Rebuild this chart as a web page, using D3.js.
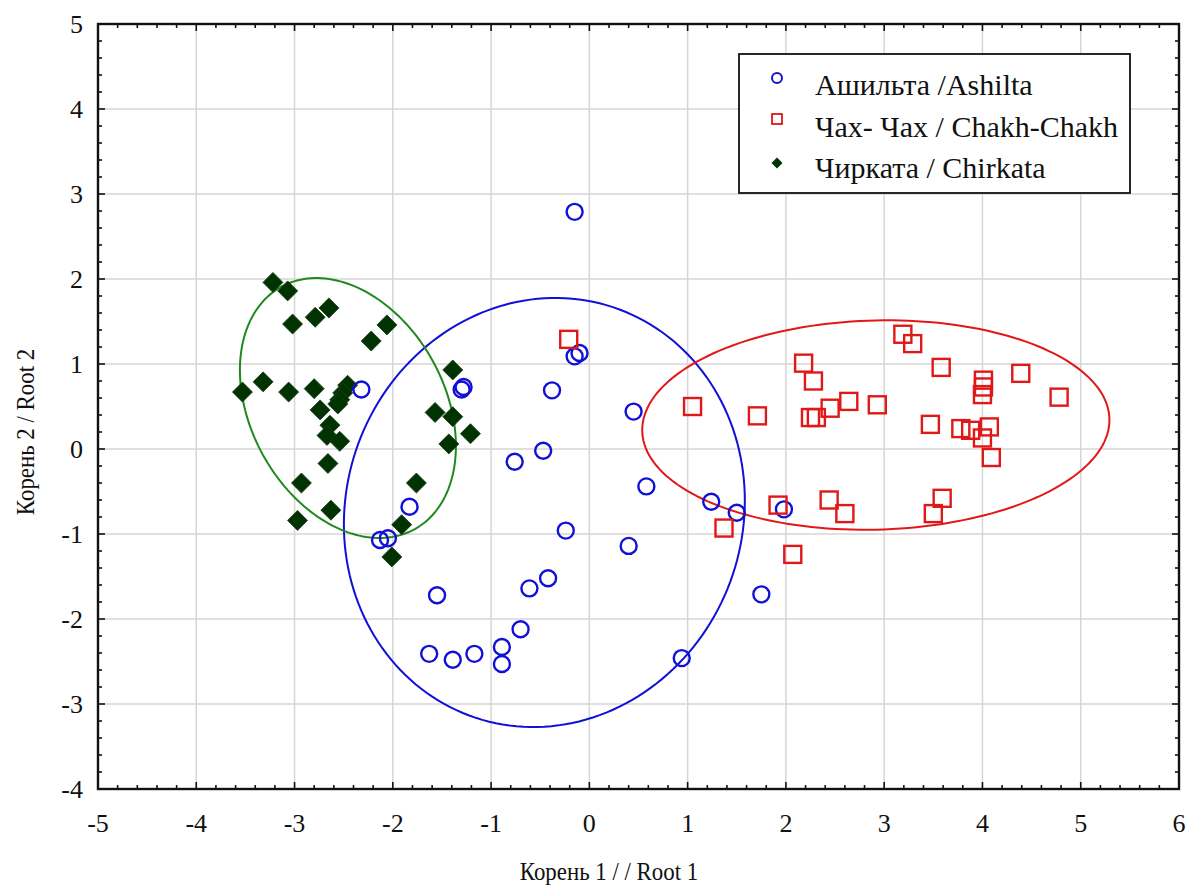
<!DOCTYPE html>
<html>
<head>
<meta charset="utf-8">
<script src="https://cdn.jsdelivr.net/npm/d3@7"></script>
<style>
  body { margin: 0; background: #fff; }
  svg text { font-family: "Liberation Serif", "Times New Roman", serif; fill: #111; }
</style>
</head>
<body>
<div id="chart"></div>
<script>
// Ашильта / Ashilta (circles)
const ashiltaX = [-2.32, -1.28, -1.30, -0.15, -0.15, -0.10, -0.38, 0.45, -0.76, -0.47, 0.58, 1.24, 1.50, 1.98, -1.83,
                  -2.13, -2.05, -0.24, 0.40, -0.42, -0.61, -1.55, 1.75, -0.70, -1.63, -1.39, -1.17, -0.89, -0.89, 0.94];
const ashiltaY = [0.70, 0.73, 0.70, 2.79, 1.09, 1.13, 0.69, 0.44, -0.15, -0.02, -0.44, -0.62, -0.75, -0.71, -0.68,
                  -1.07, -1.05, -0.96, -1.14, -1.52, -1.64, -1.72, -1.71, -2.12, -2.41, -2.48, -2.41, -2.33, -2.53, -2.46];

// Чах-Чах / Chakh-Chakh (squares)
const chakhX = [1.05, 1.71, 2.18, 2.28, 2.25, 2.31, 2.45, 2.64, 2.93, 3.19, 3.29, 3.58, 4.01, 4.01, 4.00, 4.39,
                4.78, 3.47, 3.78, 3.88, 4.07, 4.00, 4.09, 1.92, 1.37, 2.07, 2.44, 2.60, 3.59, 3.50, -0.21];
const chakhY = [0.50, 0.39, 1.01, 0.80, 0.37, 0.37, 0.48, 0.56, 0.52, 1.35, 1.24, 0.96, 0.81, 0.73, 0.64, 0.89,
                0.61, 0.29, 0.24, 0.22, 0.26, 0.13, -0.10, -0.66, -0.93, -1.24, -0.60, -0.76, -0.58, -0.76, 1.29];

// Чирката / Chirkata (diamonds)
const chirkataX = [-3.22, -3.07, -3.02, -2.79, -2.65, -2.06, -2.22, -3.53, -3.32, -3.06, -2.80, -2.46, -2.51, -2.54,
                   -2.56, -2.74, -2.64, -2.67, -2.54, -2.66, -2.93, -2.63, -2.97, -1.39, -1.57, -1.39, -1.21, -1.43,
                   -1.76, -1.91, -2.01];
const chirkataY = [1.96, 1.86, 1.47, 1.55, 1.66, 1.46, 1.27, 0.67, 0.79, 0.67, 0.71, 0.75, 0.66, 0.58,
                   0.53, 0.46, 0.28, 0.16, 0.09, -0.17, -0.40, -0.72, -0.84, 0.93, 0.43, 0.38, 0.18, 0.06,
                   -0.40, -0.89, -1.27];

// ellipses: center x, center y, spread x, spread y, correlation
const ellipseNames = ["Ашильта /Ashilta", "Чах- Чах / Chakh-Chakh", "Чирката / Chirkata"];
const ellipseCx = [-0.458, 2.915, -2.457];
const ellipseCy = [-0.747, 0.282, 0.482];
const ellipseSx = [2.040, 2.377, 1.099];
const ellipseSy = [2.524, 1.232, 1.529];
const ellipseR  = [0.055, 0.048, -0.292];

const xTicks = d3.range(-5, 7, 1);
const yTicks = d3.range(-4, 6, 1);

const width = 1188, height = 886;
const margin = {top: 24, right: 9, bottom: 97, left: 98};
const plotW = width - margin.left - margin.right;
const plotH = height - margin.top - margin.bottom;

const colors = ["#1010d8", "#e01818", "#003300"];
const ellipseColors = ["#1010d8", "#e01818", "#1e8a1e"];

const svg = d3.select("#chart").append("svg")
    .attr("width", width)
    .attr("height", height);

const g = svg.append("g")
    .attr("transform", "translate(" + margin.left + "," + margin.top + ")");

const x = d3.scaleLinear().domain([-5, 6]).range([0, plotW]);
const y = d3.scaleLinear().domain([-4, 5]).range([plotH, 0]);

// grid
g.append("g").selectAll("line.vx")
    .data(xTicks.slice(1, -1))
    .enter().append("line")
    .attr("x1", d => x(d)).attr("x2", d => x(d))
    .attr("y1", 0).attr("y2", plotH)
    .attr("stroke", "#d6d6d6").attr("stroke-width", 1.5);
g.append("g").selectAll("line.hy")
    .data(yTicks.slice(1, -1))
    .enter().append("line")
    .attr("y1", d => y(d)).attr("y2", d => y(d))
    .attr("x1", 0).attr("x2", plotW)
    .attr("stroke", "#d6d6d6").attr("stroke-width", 1.5);

// ellipses
const ellipsePath = function(i) {
    const pts = d3.range(0, 361, 2).map(function(a) {
        const t = a * Math.PI / 180;
        const ex = ellipseCx[i] + ellipseSx[i] * Math.cos(t);
        const ey = ellipseCy[i] + ellipseSy[i] * (ellipseR[i] * Math.cos(t) + Math.sqrt(1 - ellipseR[i] * ellipseR[i]) * Math.sin(t));
        return [x(ex), y(ey)];
    });
    return d3.line()(pts) + "Z";
};
g.append("defs").append("clipPath").attr("id", "clip")
    .append("rect").attr("width", plotW).attr("height", plotH);
const content = g.append("g").attr("clip-path", "url(#clip)");

content.selectAll("path.ell")
    .data(ellipseNames.map((d, i) => i))
    .enter().append("path")
    .attr("d", d => ellipsePath(d))
    .attr("fill", "none")
    .attr("stroke", d => ellipseColors[d])
    .attr("stroke-width", 2);

// points
const chirkata = chirkataX.map((d, i) => [d, chirkataY[i]]);
const ashilta = ashiltaX.map((d, i) => [d, ashiltaY[i]]);
const chakh = chakhX.map((d, i) => [d, chakhY[i]]);

content.selectAll("path.diamond")
    .data(chirkata).enter().append("path")
    .attr("d", d3.symbol().type(d3.symbolSquare).size(200))
    .attr("transform", d => "translate(" + x(d[0]) + "," + y(d[1]) + ") rotate(45)")
    .attr("fill", colors[2])
    .attr("stroke", "#1a3d1a").attr("stroke-width", 0.8);

content.selectAll("circle.ash")
    .data(ashilta).enter().append("circle")
    .attr("cx", d => x(d[0])).attr("cy", d => y(d[1]))
    .attr("r", 8)
    .attr("fill", "none")
    .attr("stroke", colors[0]).attr("stroke-width", 2.4);

content.selectAll("rect.chakh")
    .data(chakh).enter().append("rect")
    .attr("x", d => x(d[0]) - 8.5).attr("y", d => y(d[1]) - 8.5)
    .attr("width", 17).attr("height", 17)
    .attr("fill", "none")
    .attr("stroke", colors[1]).attr("stroke-width", 2.4);

// frame ticks (inside, on all sides)
const minorX = d3.range(-5, 6.001, 0.2).map(d => Math.round(d * 10) / 10);
const minorY = d3.range(-4, 5.001, 0.2).map(d => Math.round(d * 10) / 10);
const isMajor = d => Math.abs(d - Math.round(d)) < 1e-6;

const ticks = g.append("g").attr("stroke", "#111").attr("stroke-width", 1.6);
ticks.selectAll("line.bt").data(minorX).enter().append("line")
    .attr("x1", d => x(d)).attr("x2", d => x(d))
    .attr("y1", plotH).attr("y2", d => plotH - (isMajor(d) ? 7 : 4));
ticks.selectAll("line.tt").data(minorX).enter().append("line")
    .attr("x1", d => x(d)).attr("x2", d => x(d))
    .attr("y1", 0).attr("y2", d => (isMajor(d) ? 7 : 4));
ticks.selectAll("line.lt").data(minorY).enter().append("line")
    .attr("y1", d => y(d)).attr("y2", d => y(d))
    .attr("x1", 0).attr("x2", d => (isMajor(d) ? 7 : 4));
ticks.selectAll("line.rt").data(minorY).enter().append("line")
    .attr("y1", d => y(d)).attr("y2", d => y(d))
    .attr("x1", plotW).attr("x2", d => plotW - (isMajor(d) ? 7 : 4));

// frame
g.append("rect")
    .attr("width", plotW).attr("height", plotH)
    .attr("fill", "none").attr("stroke", "#111").attr("stroke-width", 2.4);

// tick labels
g.append("g").selectAll("text.xl")
    .data(xTicks).enter().append("text")
    .attr("x", d => x(d)).attr("y", plotH + 43)
    .attr("text-anchor", "middle")
    .style("font-size", "26px")
    .text(d => d);
g.append("g").selectAll("text.yl")
    .data(yTicks).enter().append("text")
    .attr("x", -15).attr("y", d => y(d) + 9)
    .attr("text-anchor", "end")
    .style("font-size", "26px")
    .text(d => d);

// axis titles (glyphs a bit narrow in the original)
svg.append("text")
    .attr("transform", "translate(" + (margin.left + x(0.2)) + ",880) scale(0.88,1)")
    .attr("text-anchor", "middle")
    .style("font-size", "26px")
    .text("Корень 1 / / Root 1");
svg.append("text")
    .attr("transform", "translate(34," + (margin.top + y(0.2)) + ") rotate(-90) scale(0.88,1)")
    .attr("text-anchor", "middle")
    .style("font-size", "26px")
    .text("Корень 2 / Root 2");

// legend
const legend = svg.append("g").attr("transform", "translate(739,54)");
legend.append("rect")
    .attr("width", 391).attr("height", 139)
    .attr("fill", "#fff").attr("stroke", "#111").attr("stroke-width", 1.8);
const rowBase = [41, 83, 124];
const markY = [24, 65, 109];
legend.append("circle").attr("cx", 38).attr("cy", markY[0]).attr("r", 5)
    .attr("fill", "none").attr("stroke", colors[0]).attr("stroke-width", 2);
legend.append("rect").attr("x", 33).attr("y", markY[1] - 5).attr("width", 10).attr("height", 10)
    .attr("fill", "none").attr("stroke", colors[1]).attr("stroke-width", 1.8);
legend.append("path")
    .attr("d", d3.symbol().type(d3.symbolSquare).size(60))
    .attr("transform", "translate(38," + markY[2] + ") rotate(45)")
    .attr("fill", colors[2]);
legend.selectAll("text.lg")
    .data(ellipseNames).enter().append("text")
    .attr("x", 76).attr("y", (d, i) => rowBase[i])
    .style("font-size", "30px")
    .text(d => d);
</script>
</body>
</html>
